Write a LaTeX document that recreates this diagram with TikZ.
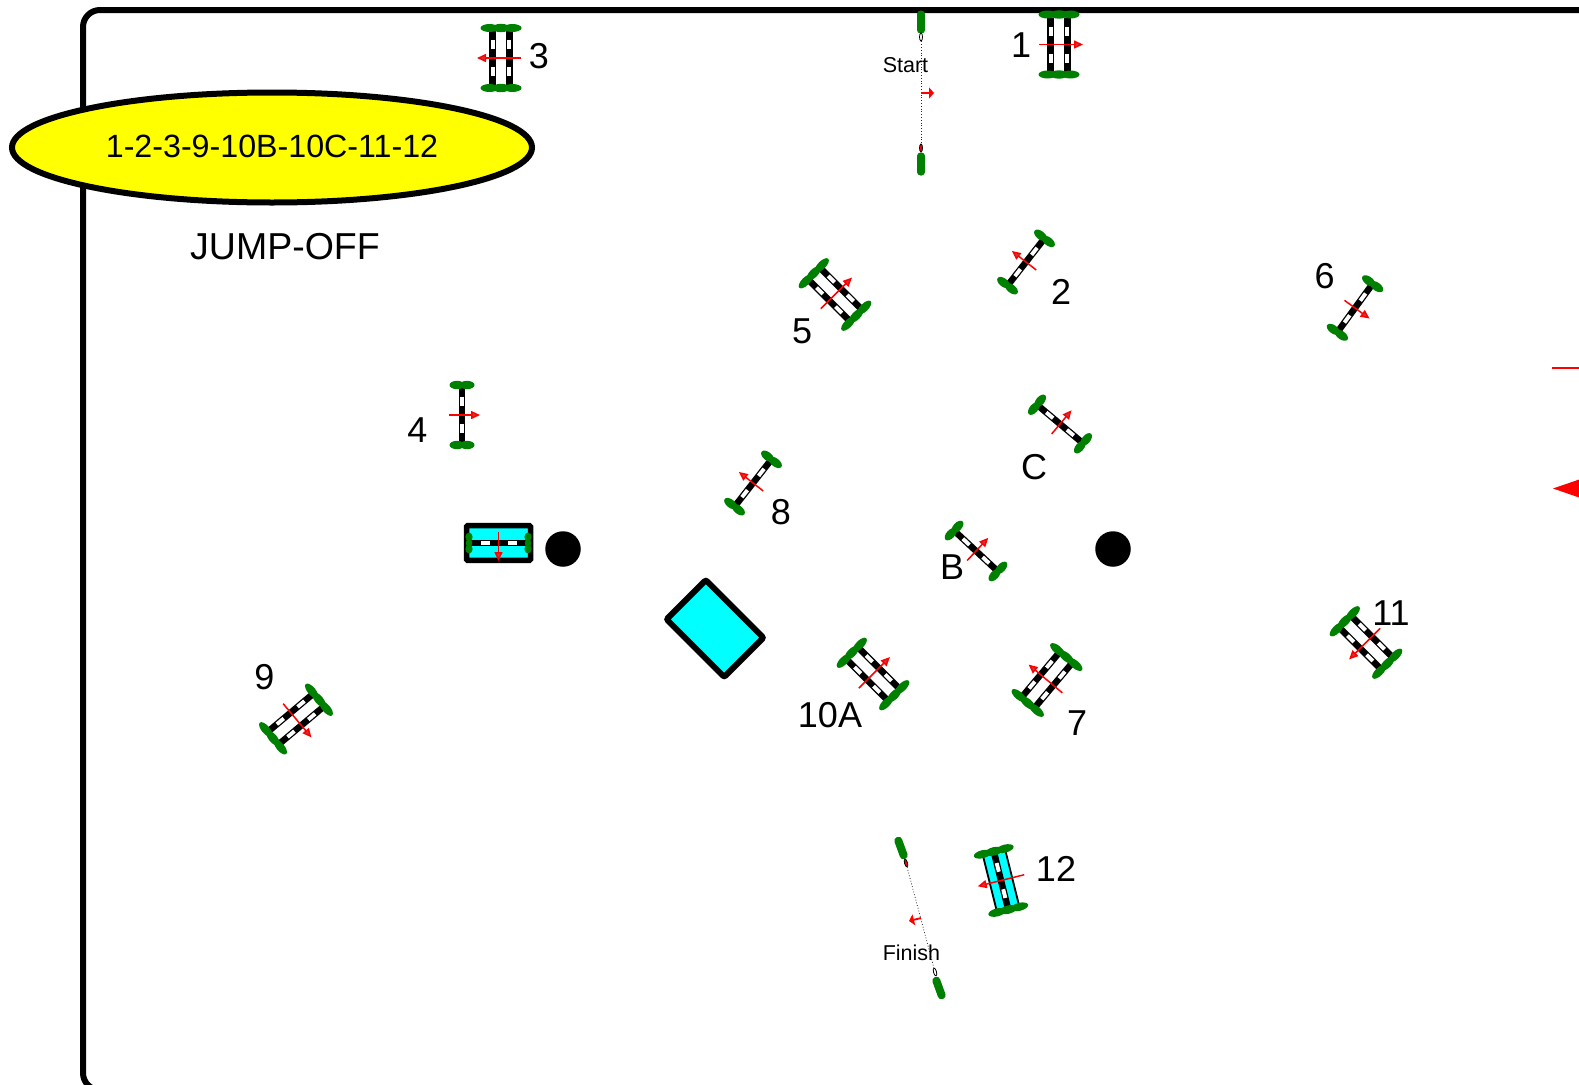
\documentclass[tikz,border=0pt]{standalone}
\usepackage{fontspec}
\setmainfont{Liberation Sans}
\usetikzlibrary{arrows.meta,shapes.geometric}
\definecolor{hedgegreen}{RGB}{0,128,0}
\definecolor{watercyan}{RGB}{0,255,255}
\definecolor{orderyellow}{RGB}{255,255,0}
\definecolor{markred}{RGB}{255,0,0}

% one rail with its two white bands
\newcommand{\railbar}[2]{
    \draw[rail] (#1,-#2) -- (#1,#2);
    \draw[band] (#1,-18) -- (#1,-9);
    \draw[band] (#1,9) -- (#1,18);
}
% bushes at the end of a rail
\newcommand{\wideshrub}[1]{
    \fill[hedgegreen] (-11.5,#1) ellipse (9 and 4);
    \fill[hedgegreen] (0,#1) ellipse (9 and 4.2);
    \fill[hedgegreen] (11.5,#1) ellipse (9 and 4);
}
\newcommand{\smallshrub}[1]{
    \fill[hedgegreen] (-5,#1) ellipse (7.5 and 4.2);
    \fill[hedgegreen] (5,#1) ellipse (7.5 and 4.2);
}

\begin{document}
\begin{tikzpicture}[
    x=1pt, y=-1pt,
    rail/.style={line width=6.5pt, black},
    band/.style={line width=3.9pt, white},
    lane/.style={-{Triangle[length=9pt, width=8pt, fill=markred!55!gray]}, line width=1.5pt, markred},
    gatelane/.style={-{Triangle[length=5pt, width=11pt]}, line width=1.8pt, markred},
    gateline/.style={dash pattern=on 0.8pt off 2pt, line width=0.8pt, black!85},
    post/.style={ellipse, draw, line width=0.8pt, minimum width=3pt, minimum height=8pt, inner sep=0pt},
    shrub/.style={rectangle, rounded corners=3.5pt, fill=hedgegreen, minimum width=8pt, minimum height=23pt, inner sep=0pt},
    course/.style={font=\fontsize{36}{40}\selectfont, inner sep=0pt},
    gatelabel/.style={font=\fontsize{21.5}{24}\selectfont, inner sep=0pt},
    standard/.style={circle, fill=black, minimum size=35.5pt, inner sep=0pt},
    single/.pic={
        \railbar{0}{28}
        \smallshrub{-30} \smallshrub{30}
        \draw[lane] (-13,0) -- (18,0);
    },
    oxer/.pic={
        \railbar{-8.3}{27} \railbar{8.3}{27}
        \wideshrub{-30} \wideshrub{30}
        \draw[lane] (-20,0) -- (24,0);
    },
    ditch/.pic={
        \draw[line width=1.8pt, fill=watercyan] (-11.5,-28) rectangle (11.5,28);
        \railbar{0}{28}
        \wideshrub{-30} \wideshrub{30}
        \draw[lane] (-24,0) -- (24,0);
    },
    tray/.pic={
        \draw[line width=5.5pt, fill=watercyan, rounded corners=1pt] (-17.3,-32) rectangle (17.3,32);
        \railbar{0}{29}
        \foreach \yy in {-29.5,29.5} {
            \fill[hedgegreen] (-6,\yy) ellipse (4.5 and 3.6);
            \fill[hedgegreen] (6,\yy) ellipse (4.5 and 3.6);
            \fill[hedgegreen] (0,\yy) ellipse (4.5 and 3.2);
        }
        \draw[lane] (-11,0) -- (18,0);
    }
]
    \useasboundingbox (0,0) rectangle (1579,1084);
    \clip (0,0) rectangle (1579,1084);

    % Arena
    \draw[line width=6pt, rounded corners=17pt] (83,10) rectangle (1700,1090);

    % Entry marks at the right edge
    \coordinate (entryl) at (1552,368);
    \coordinate (entryr) at (1600,368);
    \draw[markred, line width=1.5pt] (entryl) -- (entryr);
    \fill[markred] (1553,488.5) -- (1582,478.5) -- (1582,498.5) -- cycle;

    % Jump-off box
    \node[ellipse, draw, line width=6pt, fill=orderyellow, minimum width=520pt, minimum height=110pt, inner sep=0pt] (order) at (272,147.5) {};
    \node[inner sep=0pt, font=\fontsize{32.2}{36}\selectfont] (ordertext) at (272,146) {1-2-3-9-10B-10C-11-12};
    \node[course, font=\fontsize{37.5}{40}\selectfont] (jumpoff) at (285,247) {JUMP-OFF};

    % Start line
    \node[shrub] (starthedgea) at (921,22) {};
    \node[shrub] (starthedgeb) at (921,164) {};
    \node[post, fill=white] (startposta) at (921,37) {};
    \node[post, fill=markred] (startpostb) at (921,148) {};
    \draw[gateline] (startposta) -- (startpostb);
    \coordinate (starttail) at (921,93);
    \coordinate (starttip) at (934,93);
    \draw[gatelane] (starttail) -- (starttip);
    \node[gatelabel] (startlabel) at (905.5,65) {Start};

    % Finish line
    \node[shrub, rotate=20] (finishhedgea) at (901,848) {};
    \node[shrub, rotate=20] (finishhedgeb) at (939,988) {};
    \node[post, fill=markred, rotate=15] (finishposta) at (906,863) {};
    \node[post, fill=white, rotate=15] (finishpostb) at (935,972) {};
    \draw[gateline] (finishposta) -- (finishpostb);
    \coordinate (finishtail) at (921,918);
    \coordinate (finishtip) at (909,921);
    \draw[gatelane] (finishtail) -- (finishtip);
    \node[gatelabel] (finishlabel) at (911.5,953) {Finish};

    % Jumps
    \pic[rotate=0] (jumpa) at (1059,44.5) {oxer};
    \pic[rotate=142] (jumpb) at (1026,262) {single};
    \pic[rotate=180] (jumpc) at (501,58) {oxer};
    \pic[rotate=0] (jumpd) at (462,415) {single};
    \pic[rotate=45] (jumpe) at (835,294.5) {oxer};
    \pic[rotate=-36] (jumpf) at (1355,308) {single};
    \pic[rotate=140] (jumpg) at (1047,680) {oxer};
    \pic[rotate=142] (jumph) at (753,483) {single};
    \pic[rotate=-50] (jumpi) at (296,719) {oxer};
    \pic[rotate=45] (jumpj) at (873,674) {oxer};
    \pic[rotate=47] (jumpk) at (976,551) {single};
    \pic[rotate=50] (jumpl) at (1060,424) {single};
    \pic[rotate=225] (jumpm) at (1366,642.5) {oxer};
    \pic[rotate=194] (jumpn) at (1001,880.5) {ditch};
    \pic[rotate=-90] (jumpo) at (498.5,543) {tray};

    % Standards and water tray
    \node[standard] (standarda) at (563,549) {};
    \node[standard] (standardb) at (1113,549) {};
    \node[rectangle, draw, line width=6pt, fill=watercyan, rounded corners=2pt, rotate=-45, minimum width=81.5pt, minimum height=55.5pt, inner sep=0pt] (pool) at (715,628.5) {};

    % Labels
    \node[course] (labela) at (1021,45) {1};
    \node[course] (labelb) at (1061,292) {2};
    \node[course] (labelc) at (539,56) {3};
    \node[course] (labeld) at (417.5,430) {4};
    \node[course] (labele) at (802,331) {5};
    \node[course] (labelf) at (1324.5,276) {6};
    \node[course] (labelg) at (1077,723) {7};
    \node[course] (labelh) at (781,512.5) {8};
    \node[course] (labeli) at (264.5,677.5) {9};
    \node[course] (labelj) at (830,715) {10A};
    \node[course] (labelk) at (952,567) {B};
    \node[course] (labell) at (1034,467) {C};
    \node[course] (labelm) at (1391,613) {11};
    \node[course] (labeln) at (1056,869) {12};
\end{tikzpicture}
\end{document}
